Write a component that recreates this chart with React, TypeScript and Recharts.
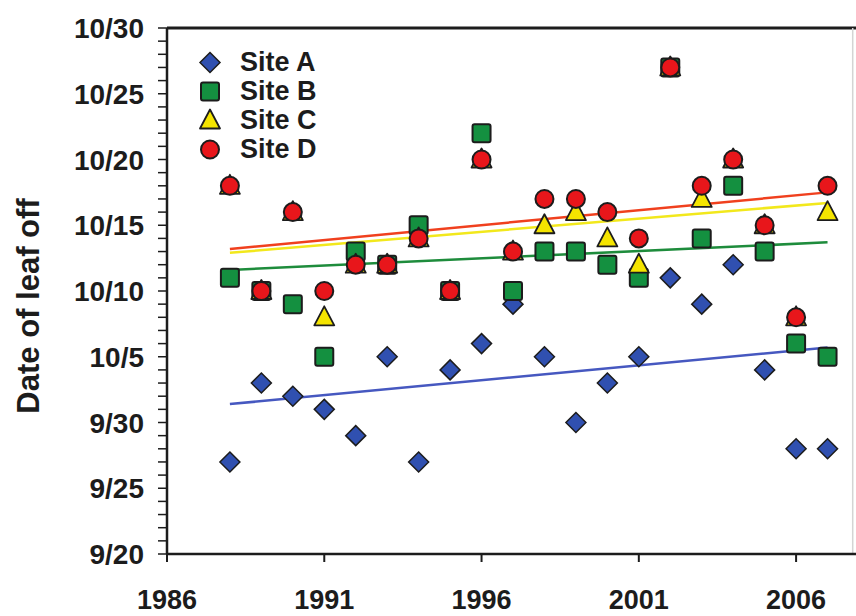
import React from "react";
import {
  ScatterChart,
  Scatter,
  XAxis,
  YAxis,
  ReferenceLine,
} from "recharts";

// years of observation
const years = [
  1988, 1989, 1990, 1991, 1992, 1993, 1994, 1995, 1996, 1997,
  1998, 1999, 2000, 2001, 2002, 2003, 2004, 2005, 2006, 2007,
];

// leaf-off date, in days after 9/20
const siteA = [7, 13, 12, 11, 9, 15, 7, 14, 16, 19, 15, 10, 13, 15, 21, 19, 22, 14, 8, 8];
const siteB = [21, 20, 19, 15, 23, 22, 25, 20, 32, 20, 23, 23, 22, 21, 37, 24, 28, 23, 16, 15];
const siteC = [28, 20, 26, 18, 22, 22, 24, 20, 30, 23, 25, 26, 24, 22, 37, 27, 30, 25, 18, 26];
const siteD = [28, 20, 26, 20, 22, 22, 24, 20, 30, 23, 27, 27, 26, 24, 37, 28, 30, 25, 18, 28];

// trend line ends (day value at first and last year)
const trendA = [11.4, 15.7];
const trendB = [21.6, 23.7];
const trendC = [22.9, 26.7];
const trendD = [23.2, 27.5];

const xTicks = [1986, 1991, 1996, 2001, 2006];
const yTickLabels = ["9/20", "9/25", "9/30", "10/5", "10/10", "10/15", "10/20", "10/25", "10/30"];
const yTicks = Array.from({ length: 41 }, (_, i) => i);

const FONT = "'Liberation Sans', Arial, sans-serif";
const INK = "#1c1c1c";

const COLORS = {
  A: "#3050B0",
  B: "#149040",
  C: "#F4E400",
  D: "#E8161B",
};
const TREND = {
  A: "#4658C0",
  B: "#1E8C3C",
  C: "#F2E81C",
  D: "#F0401E",
};

const toPoints = (vals: number[]) => years.map((year, i) => ({ year, day: vals[i] }));

const first = years[0];
const last = years[years.length - 1];

// marker shapes
const Diamond = ({ cx, cy }: any) => (
  <polygon
    points={`${cx},${cy - 10} ${cx + 10},${cy} ${cx},${cy + 10} ${cx - 10},${cy}`}
    fill={COLORS.A}
    stroke={INK}
    strokeWidth={1.5}
  />
);
const Square = ({ cx, cy }: any) => (
  <rect x={cx - 9} y={cy - 9} width={18} height={18} rx={2} fill={COLORS.B} stroke={INK} strokeWidth={2} />
);
const Triangle = ({ cx, cy }: any) => (
  <polygon
    points={`${cx},${cy - 11} ${cx + 10},${cy + 8} ${cx - 10},${cy + 8}`}
    fill={COLORS.C}
    stroke={INK}
    strokeWidth={1.8}
    strokeLinejoin="round"
  />
);
const Dot = ({ cx, cy }: any) => (
  <circle cx={cx} cy={cy} r={9} fill={COLORS.D} stroke={INK} strokeWidth={2} />
);

const legendItems = [
  { name: "Site A", Shape: Diamond },
  { name: "Site B", Shape: Square },
  { name: "Site C", Shape: Triangle },
  { name: "Site D", Shape: Dot },
];

const LegendBox = () => (
  <div
    style={{
      position: "absolute",
      left: 198,
      top: 48,
      fontFamily: FONT,
      fontWeight: 700,
      fontSize: 27,
      color: INK,
    }}
  >
    {legendItems.map(({ name, Shape }) => (
      <div key={name} style={{ display: "flex", alignItems: "center", height: 29 }}>
        <svg width={24} height={29}>
          <Shape cx={12} cy={14.5} />
        </svg>
        <span style={{ marginLeft: 18, lineHeight: "29px" }}>{name}</span>
      </div>
    ))}
  </div>
);

const YTick = ({ x, y, payload }: any) => {
  const v = payload.value;
  if (v % 5 !== 0) return <g />;
  return (
    <text x={x} y={y} dy="0.36em" textAnchor="end" fontFamily={FONT} fontWeight={700} fontSize={28} fill={INK}>
      {yTickLabels[v / 5]}
    </text>
  );
};

const YTitle = () => (
  <text
    x={39}
    y={306}
    transform="rotate(-90 39 306)"
    textAnchor="middle"
    fontFamily={FONT}
    fontWeight={700}
    fontSize={31}
    fill={INK}
  >
    Date of leaf off
  </text>
);

export default function App() {
  return (
    <div
      style={{
        position: "absolute",
        left: 0,
        top: 0,
        width: 856,
        height: 616,
        overflow: "hidden",
        background: "#fff",
      }}
    >
      <ScatterChart width={869} height={616} margin={{ top: 28, right: 10, bottom: 0, left: 0 }}>
        <XAxis
          dataKey="year"
          type="number"
          domain={[1986, 2008]}
          ticks={xTicks}
          height={62}
          tickSize={8}
          tickMargin={28}
          axisLine={{ stroke: INK, strokeWidth: 2.5 }}
          tickLine={{ stroke: INK, strokeWidth: 2 }}
          tick={{ fontFamily: FONT, fontWeight: 700, fontSize: 27, fill: INK }}
        />
        <YAxis
          dataKey="day"
          type="number"
          domain={[0, 40]}
          ticks={yTicks}
          interval={0}
          width={167}
          tickSize={9}
          tickMargin={14}
          axisLine={{ stroke: INK, strokeWidth: 2.5 }}
          tickLine={{ stroke: INK, strokeWidth: 1.5 }}
          tick={<YTick />}
          label={<YTitle />}
        />
        <ReferenceLine y={40} stroke={INK} strokeWidth={3} />
        <ReferenceLine x={2007.8} stroke="#d4d4d4" strokeWidth={1.5} />
        <ReferenceLine segment={[{ x: first, y: trendA[0] }, { x: last, y: trendA[1] }]} stroke={TREND.A} strokeWidth={2.5} />
        <ReferenceLine segment={[{ x: first, y: trendB[0] }, { x: last, y: trendB[1] }]} stroke={TREND.B} strokeWidth={2.5} />
        <ReferenceLine segment={[{ x: first, y: trendC[0] }, { x: last, y: trendC[1] }]} stroke={TREND.C} strokeWidth={2.5} />
        <ReferenceLine segment={[{ x: first, y: trendD[0] }, { x: last, y: trendD[1] }]} stroke={TREND.D} strokeWidth={2.5} />
        <Scatter name="Site A" data={toPoints(siteA)} shape={(p: any) => <Diamond {...p} />} isAnimationActive={false} />
        <Scatter name="Site B" data={toPoints(siteB)} shape={(p: any) => <Square {...p} />} isAnimationActive={false} />
        <Scatter name="Site C" data={toPoints(siteC)} shape={(p: any) => <Triangle {...p} />} isAnimationActive={false} />
        <Scatter name="Site D" data={toPoints(siteD)} shape={(p: any) => <Dot {...p} />} isAnimationActive={false} />
      </ScatterChart>
      <LegendBox />
    </div>
  );
}
